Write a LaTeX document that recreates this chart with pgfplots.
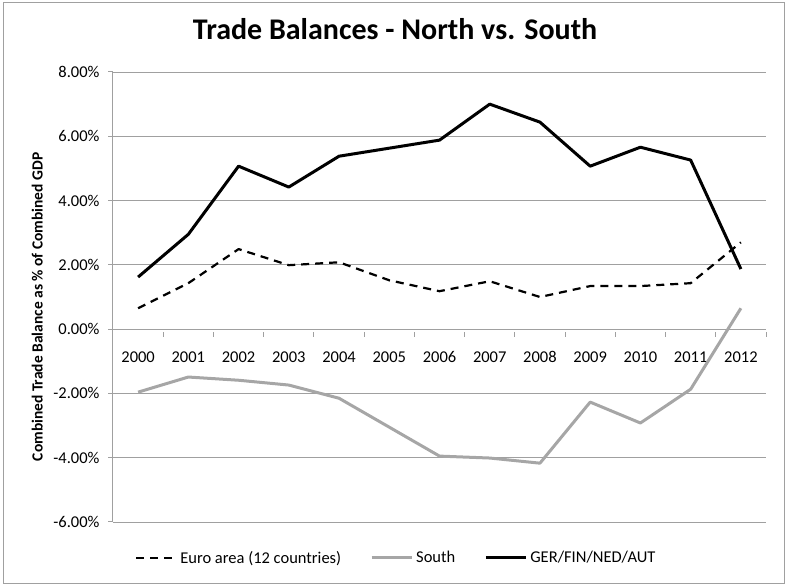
\documentclass[border=0pt]{standalone}
\usepackage{fontspec}
\setmainfont{Carlito}
\usepackage{pgfplots}
\pgfplotsset{compat=1.18}
\definecolor{southgray}{HTML}{A6A6A6}
\definecolor{gridgray}{HTML}{A0A0A0}
\begin{document}
\begin{tikzpicture}[x=1pt,y=1pt]
\path (0,0) rectangle (790,588);
\draw[gridgray, line width=1pt] (3,4) rectangle (784,585);
\begin{axis}[
  at={(113pt,66pt)}, anchor=south west,
  scale only axis, width=653pt, height=450pt,
  xmin=-0.5, xmax=12.5, ymin=-6, ymax=8,
  axis x line*=middle, axis y line*=left,
  axis line style={gridgray, line width=1pt},
  xtick={0,...,12},
  xticklabels={2000,2001,2002,2003,2004,2005,2006,2007,2008,2009,2010,2011,2012},
  minor xtick={-0.5,0.5,...,12.5},
  major x tick style={draw=none},
  minor x tick style={gridgray, line width=1pt, yshift=-2.5pt},
  minor tick length=5pt, major tick length=5pt,
  ytick={-6,-4,...,8},
  y tick style={gridgray, line width=1pt},
  tick align=outside,
  ymajorgrids=true,
  major grid style={gridgray, line width=0.8pt},
  yticklabel={\pgfmathprintnumber[fixed,fixed zerofill,precision=2]{\tick}\%},
  /pgf/number format/assume math mode=true,
  tick label style={font=\fontsize{16.5}{20}\selectfont},
  xticklabel style={yshift=-14pt},
  yticklabel style={xshift=-5pt},
  ylabel={Combined Trade Balance as \% of Combined GDP},
  every axis y label/.style={at={(rel axis cs:-0.116,0.478)}, rotate=90, anchor=center,
    font=\bfseries\fontsize{15.5}{18}\selectfont},
  title={Trade Balances - North vs. South},
  title style={at={(rel axis cs:0.432,1.082)}, anchor=center,
    font=\bfseries\fontsize{30}{36}\selectfont},
  legend style={at={(rel axis cs:0.029,-0.08)}, anchor=west, draw=none, fill=none,
    font=\fontsize{16.5}{20}\selectfont, legend columns=3,
    nodes={inner xsep=3pt},
    /tikz/every even column/.append style={column sep=26pt}},
  legend cell align=left,
  legend image code/.code={\draw[#1] (0pt,0pt) -- (40pt,0pt);},
  line join=round,
]
\addplot[black, line width=2.2pt, dash pattern=on 8pt off 6pt] coordinates {
 (0,0.65) (1,1.43) (2,2.49) (3,1.99) (4,2.08) (5,1.52) (6,1.18)
 (7,1.49) (8,1.00) (9,1.34) (10,1.34) (11,1.43) (12,2.70)};
\addlegendentry{Euro area (12 countries)}
\addplot[southgray, line width=3pt] coordinates {
 (0,-1.96) (1,-1.49) (2,-1.59) (3,-1.74) (4,-2.15) (5,-3.05) (6,-3.95)
 (7,-4.01) (8,-4.17) (9,-2.27) (10,-2.92) (11,-1.87) (12,0.65)};
\addlegendentry{South}
\addplot[black, line width=3pt] coordinates {
 (0,1.62) (1,2.95) (2,5.07) (3,4.42) (4,5.38) (5,5.63) (6,5.88)
 (7,7.00) (8,6.44) (9,5.07) (10,5.66) (11,5.26) (12,1.87)};
\addlegendentry{GER/FIN/NED/AUT}
\end{axis}
\end{tikzpicture}
\end{document}
